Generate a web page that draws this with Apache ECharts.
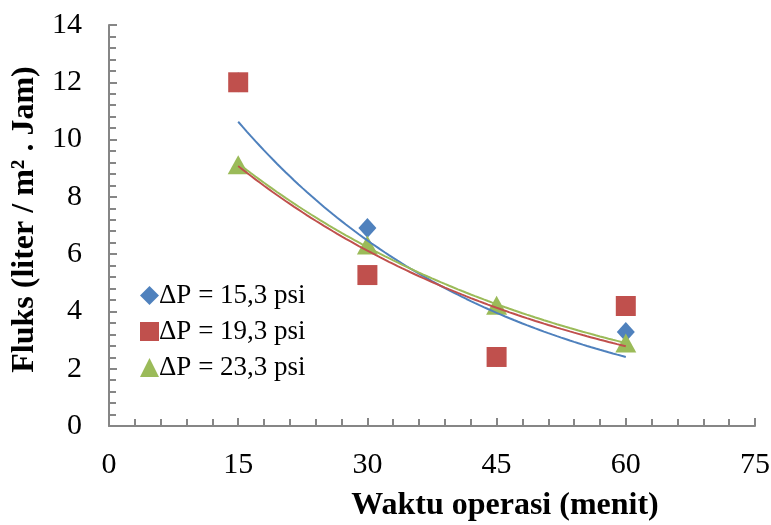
<!DOCTYPE html>
<html>
<head>
<meta charset="utf-8">
<script src="https://cdn.jsdelivr.net/npm/echarts@6/dist/echarts.min.js"></script>
<style>
  html, body { margin: 0; padding: 0; background: #fff; }
  #chart { width: 771px; height: 525px; }
</style>
</head>
<body>
<div id="chart"></div>
<script>
// Operating time (minutes) and measured flux for each pressure difference
const times = [15, 30, 45, 60];
const flux153 = [12, 6.91, 2.41, 3.28];
const flux193 = [12, 5.27, 2.41, 4.19];
const flux233 = [9.12, 6.32, 4.22, 2.9];
const seriesNames = ['ΔP = 15,3 psi', 'ΔP = 19,3 psi', 'ΔP = 23,3 psi'];
const colors = ['#4F81BD', '#C0504D', '#9BBB59'];
const symbols = ['diamond', 'rect', 'triangle'];

// Least-squares exponential fit y = a * exp(b x), as used for the trendlines
function expFit(xs, ys) {
  const n = xs.length;
  const ly = ys.map(Math.log);
  const mx = xs.reduce((s, v) => s + v, 0) / n;
  const my = ly.reduce((s, v) => s + v, 0) / n;
  let sxy = 0, sxx = 0;
  for (let i = 0; i < n; i++) {
    sxy += (xs[i] - mx) * (ly[i] - my);
    sxx += (xs[i] - mx) * (xs[i] - mx);
  }
  const b = sxy / sxx;
  const a = Math.exp(my - b * mx);
  return { a, b };
}

function trendPoints(xs, ys) {
  const { a, b } = expFit(xs, ys);
  const pts = [];
  const x0 = Math.min(...xs), x1 = Math.max(...xs);
  for (let x = x0; x <= x1 + 1e-9; x += 0.5) pts.push([x, a * Math.exp(b * x)]);
  return pts;
}

const allFlux = [flux153, flux193, flux233];
const font = 'Liberation Serif';
const symbolSizes = [[18, 20], 20, [21, 19]];

const scatterSeries = allFlux.map((vals, i) => ({
  name: seriesNames[i],
  type: 'scatter',
  symbol: symbols[i],
  symbolSize: symbolSizes[i],
  itemStyle: { color: colors[i], opacity: 1 },
  data: times.map((t, k) => [t, vals[k]]),
  z: 2
}));

const trendSeries = allFlux.map((vals, i) => ({
  name: seriesNames[i] + ' trend',
  type: 'line',
  showSymbol: false,
  smooth: false,
  lineStyle: { color: colors[i], width: 2 },
  data: trendPoints(times, vals),
  z: 3,
  silent: true
}));

const axisLine = { show: true, lineStyle: { color: '#868686', width: 2 } };
const tickStyle = { color: '#868686', width: 2 };

const chart = echarts.init(document.getElementById('chart'));
chart.setOption({
  animation: false,
  backgroundColor: '#fff',
  grid: { left: 109, right: 16, top: 25, bottom: 99, containLabel: false, outerBoundsMode: 'none' },
  legend: {
    data: seriesNames.map((n, i) => ({ name: n, icon: symbols[i] })),
    orient: 'vertical',
    left: 135,
    top: 277,
    itemWidth: 19,
    itemHeight: 19,
    itemGap: 9,
    textStyle: { fontFamily: font, fontSize: 27, color: '#000', padding: [0, 0, 0, -5] }
  },
  xAxis: {
    type: 'value',
    min: 0, max: 75, interval: 15,
    name: 'Waktu operasi (menit)',
    nameLocation: 'middle',
    nameGap: 64,
    nameTextStyle: { fontFamily: font, fontSize: 32, fontWeight: 'bold', color: '#000', padding: [0, 0, 0, 146] },
    axisLine: axisLine,
    axisTick: { show: true, inside: true, length: 8, lineStyle: tickStyle },
    minorTick: { show: true, splitNumber: 5, length: 7, lineStyle: tickStyle },
    splitLine: { show: false },
    minorSplitLine: { show: false },
    axisLabel: { fontFamily: font, fontSize: 30, color: '#000', margin: 24 }
  },
  yAxis: {
    type: 'value',
    min: 0, max: 14, interval: 2,
    name: 'Fluks (liter / m² . Jam)',
    nameLocation: 'middle',
    nameGap: 64,
    nameTextStyle: { fontFamily: font, fontSize: 32, fontWeight: 'bold', color: '#000', padding: [0, 0, 0, 12] },
    axisLine: axisLine,
    axisTick: { show: true, inside: true, length: 8, lineStyle: tickStyle },
    minorTick: { show: true, splitNumber: 5, length: 7, lineStyle: tickStyle },
    splitLine: { show: false },
    minorSplitLine: { show: false },
    axisLabel: { fontFamily: font, fontSize: 30, color: '#000', margin: 27 }
  },
  series: [...scatterSeries, ...trendSeries]
});
</script>
</body>
</html>
